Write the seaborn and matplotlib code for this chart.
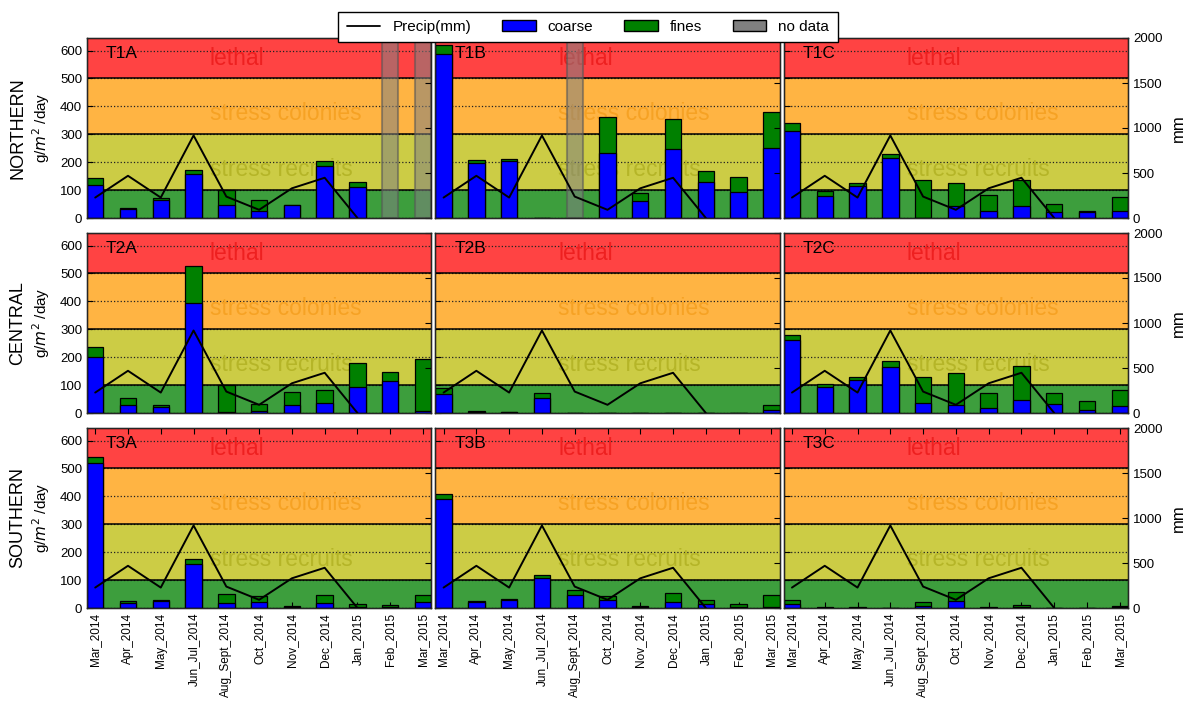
import numpy as np
import pandas as pd
import matplotlib
matplotlib.use("Agg")
import matplotlib.pyplot as plt
from matplotlib.lines import Line2D
from matplotlib.patches import Patch
import seaborn as sns

nan = np.nan

months = ['Mar_2014', 'Apr_2014', 'May_2014', 'Jun_Jul_2014', 'Aug_Sept_2014',
          'Oct_2014', 'Nov_2014', 'Dec_2014', 'Jan_2015', 'Feb_2015', 'Mar_2015']

precip_mm = [227, 469, 227, 917, 238, 91, 330, 447, 0, nan, nan]

# sediment accumulation, g/m^2/day
t1a_coarse = [119, 33, 66, 157, 45, 24, 45, 187, 110, nan, nan]
t1a_fines = [26, 3, 6, 16, 56, 42, 3, 16, 18, nan, nan]
t1b_coarse = [588, 197, 205, 0, nan, 233, 60, 247, 128, 92, 251]
t1b_fines = [32, 12, 6, 0, nan, 129, 29, 107, 39, 55, 128]
t1c_coarse = [313, 78, 115, 215, 0, 42, 24, 44, 21, 22, 24]
t1c_fines = [27, 17, 10, 15, 137, 83, 57, 93, 29, 2, 50]

t2a_coarse = [200, 30, 20, 395, 2, 6, 27, 36, 94, 114, 8]
t2a_fines = [37, 24, 10, 132, 97, 27, 48, 46, 84, 33, 185]
t2b_coarse = [69, 3, 2, 52, 0, 0, 0, 0, 0, 0, 10]
t2b_fines = [21, 3, 2, 18, 0, 0, 0, 0, 0, 0, 20]
t2c_coarse = [263, 94, 120, 165, 36, 30, 18, 48, 32, 12, 26]
t2c_fines = [18, 10, 8, 22, 93, 113, 52, 122, 40, 30, 58]

t3a_coarse = [518, 18, 24, 159, 18, 20, 3, 18, 5, 3, 20]
t3a_fines = [22, 6, 4, 16, 33, 22, 3, 28, 9, 7, 26]
t3b_coarse = [392, 20, 27, 108, 46, 30, 2, 22, 14, 3, 2]
t3b_fines = [18, 4, 7, 12, 20, 12, 6, 30, 13, 11, 44]
t3c_coarse = [14, 1, 1, 0, 6, 24, 1, 2, 0, 0, 2]
t3c_fines = [16, 3, 3, 0, 16, 34, 1, 10, 0, 0, 6]

panel_names = [['T1A', 'T1B', 'T1C'], ['T2A', 'T2B', 'T2C'], ['T3A', 'T3B', 'T3C']]
coarse_sets = [[t1a_coarse, t1b_coarse, t1c_coarse],
               [t2a_coarse, t2b_coarse, t2c_coarse],
               [t3a_coarse, t3b_coarse, t3c_coarse]]
fines_sets = [[t1a_fines, t1b_fines, t1c_fines],
              [t2a_fines, t2b_fines, t2c_fines],
              [t3a_fines, t3b_fines, t3c_fines]]
no_data = {'T1A': ['Feb_2015', 'Mar_2015'], 'T1B': ['Aug_Sept_2014']}
regions = ['NORTHERN', 'CENTRAL', 'SOUTHERN']

# threshold bands
bands = [(0, 100, '#3d9e3d'), (100, 300, '#cccc45'), (300, 500, '#ffb443'), (500, 700, '#ff4343')]
band_text = [(550, 'lethal', '#ee2020'), (350, 'stress colonies', '#f6a224'),
             (150, 'stress recruits', '#b5b528')]

COARSE = '#0000ff'
FINES = '#008000'

sns.set_style('ticks')
plt.rcParams['font.family'] = ['Liberation Sans', 'DejaVu Sans']
plt.rcParams['xtick.direction'] = 'in'
plt.rcParams['ytick.direction'] = 'in'
for key in ('text.color', 'axes.labelcolor', 'xtick.color', 'ytick.color'):
    plt.rcParams[key] = 'black'

W, H = 1188, 713
fig, axes = plt.subplots(3, 3, figsize=(W / 100, H / 100), dpi=100, sharex=True, sharey=True)
fig.subplots_adjust(left=87 / W, right=1128 / W, top=1 - 38 / H, bottom=1 - 608 / H,
                    wspace=0.012, hspace=15 / 180)

x_pos = np.arange(len(months))

for r in range(3):
    for c in range(3):
        ax = axes[r, c]
        name = panel_names[r][c]
        coarse = np.array(coarse_sets[r][c], dtype=float)
        fines = np.array(fines_sets[r][c], dtype=float)
        df = pd.DataFrame({'month': months, 'coarse': coarse, 'total': coarse + fines})

        for lo, hi, col in bands:
            ax.axhspan(lo, hi, facecolor=col, edgecolor='none', zorder=0)
        for yv in (100, 300, 500):
            ax.axhline(yv, color='black', lw=1.1, zorder=0.6)
        for yv, txt, col in band_text:
            ax.text(3.5, yv, txt, color=col, fontsize=16.5, ha='left', va='baseline', zorder=0.8)

        sns.barplot(data=df, x='month', y='total', order=months, color=FINES, saturation=1,
                    width=0.5, edgecolor='black', linewidth=0.9, errorbar=None, ax=ax)
        sns.barplot(data=df, x='month', y='coarse', order=months, color=COARSE, saturation=1,
                    width=0.5, edgecolor='black', linewidth=0.9, errorbar=None, ax=ax)

        for m in no_data.get(name, []):
            i = months.index(m)
            ax.axvspan(i - 0.25, i + 0.25, facecolor='#808080', alpha=0.55,
                       edgecolor='#555555', lw=1.5, zorder=2)

        ax.set_axisbelow(True)
        ax.yaxis.grid(True, ls=':', color='#222222', lw=0.9)
        ax.xaxis.grid(False)
        ax.set_ylim(0, 645)
        ax.set_yticks(range(0, 700, 100))
        ax.set_xlim(-0.25, len(months) - 0.75)
        ax.set_xlabel('')
        ax.set_ylabel('')
        ax.text(0.055, 0.915, name, transform=ax.transAxes, fontsize=12.5, color='black',
                ha='left', va='center', zorder=5)
        for s in ax.spines.values():
            s.set_visible(True)
            s.set_color('black')
            s.set_linewidth(1.0)

        ax.tick_params(axis='y', left=True, labelleft=(c == 0), labelsize=9.5, length=4,
                       direction='in')
        if r == 2:
            ax.tick_params(axis='x', bottom=True, top=True, labelbottom=True, length=4,
                           direction='in', labelsize=8.5, labelrotation=90)
        else:
            ax.tick_params(axis='x', bottom=False, top=False, labelbottom=False)

        ax2 = ax.twinx()
        sns.lineplot(x=x_pos, y=precip_mm, color='black', lw=1.4, ax=ax2)
        ax2.set_ylim(0, 2000)
        ax2.set_yticks(range(0, 2001, 500))
        ax2.set_ylabel('')
        ax2.grid(False)
        ax2.tick_params(axis='y', right=True, labelright=(c == 2), labelsize=9.5, length=4,
                        direction='in')
        ax.set_xlim(-0.25, len(months) - 0.75)

    yc = 1 - ((38 + 195 * r) + 90) / H
    fig.text(18 / W, yc, regions[r], rotation=90, ha='center', va='center', fontsize=13)
    fig.text(41 / W, yc, 'g/$m^2$ /day', rotation=90, ha='center', va='center', fontsize=11)
    fig.text(1178 / W, yc, 'mm', rotation=90, ha='center', va='center', fontsize=12)

handles = [Line2D([0], [0], color='black', lw=1.3),
           Patch(facecolor=COARSE, edgecolor='black'),
           Patch(facecolor=FINES, edgecolor='black'),
           Patch(facecolor='#808080', edgecolor='black')]
labels = ['Precip(mm)', 'coarse', 'fines', 'no data']
leg = fig.legend(handles, labels, loc='upper center', bbox_to_anchor=(588 / W, 1 - 4 / H),
                 ncol=4, fontsize=11, frameon=True, fancybox=False, edgecolor='black',
                 framealpha=1, handlelength=2.2, handletextpad=0.8, columnspacing=2.0,
                 borderpad=0.55)
leg.get_frame().set_linewidth(1.0)

fig.savefig('out.png', dpi=100)
